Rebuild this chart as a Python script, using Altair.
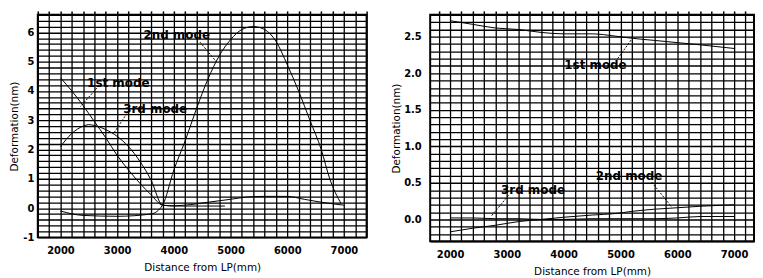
import altair as alt
import pandas as pd

FONT = "DejaVu Sans"

# ---------------- Left panel data ----------------
left_x_1st = [2000, 2200, 2400, 2600, 2800, 3000, 3200, 3400, 3600, 3800, 4000, 4500, 4900]
left_y_1st = [4.45, 4.0, 3.5, 2.95, 2.4, 1.8, 1.3, 0.85, 0.45, 0.1, 0.07, 0.07, 0.07]

left_x_2nd = [2000, 2400, 3000, 3600, 3800, 4000, 4200, 4400, 4600, 4800, 5000, 5200,
              5400, 5600, 5800, 6000, 6200, 6400, 6600, 6750, 6950]
left_y_2nd = [-0.1, -0.25, -0.28, -0.2, 0.1, 1.3, 2.3, 3.4, 4.4, 5.2, 5.75, 6.1,
              6.2, 6.1, 5.7, 4.9, 4.0, 3.0, 2.0, 1.0, 0.15]

left_x_3rd = [2000, 2200, 2400, 2500, 2600, 2800, 3000, 3200, 3400, 3600, 3800, 4000,
              4300, 4600, 5000, 5300, 5600, 6000, 6300, 6600, 7000]
left_y_3rd = [2.1, 2.55, 2.8, 2.85, 2.82, 2.68, 2.45, 2.1, 1.6, 0.95, 0.1, 0.08,
              0.12, 0.2, 0.3, 0.38, 0.4, 0.4, 0.3, 0.2, 0.1]

left_labels = ["2nd mode", "1st mode", "3rd mode"]
left_label_x = [4050, 3020, 3670]
left_label_y = [5.9, 4.28, 3.4]
left_lead_x = [4460, 2640, 3170]
left_lead_y = [5.67, 4.1, 3.23]
left_lead_x2 = [4750, 2350, 2930]
left_lead_y2 = [5.0, 3.46, 2.53]

# ---------------- Right panel data ----------------
right_x = [2000, 2400, 2800, 3200, 3600, 4000, 4500, 4900, 5200, 5600, 6000, 6400, 7000]
right_y_1st = [2.72, 2.67, 2.62, 2.6, 2.56, 2.54, 2.54, 2.51, 2.48, 2.45, 2.42, 2.39, 2.34]
right_y_2nd = [-0.17, -0.12, -0.08, -0.03, 0.0, 0.03, 0.06, 0.08, 0.11, 0.14, 0.16, 0.18, 0.2]
right_y_3rd = [0.02, 0.02, 0.01, 0.01, 0.0, 0.0, 0.01, 0.01, 0.01, 0.01, 0.02, 0.04, 0.04]

right_labels = ["1st mode", "2nd mode", "3rd mode"]
right_label_x = [4560, 5150, 3460]
right_label_y = [2.11, 0.6, 0.4]
right_lead_x = [4950, 5550, 3030]
right_lead_y = [2.2, 0.51, 0.33]
right_lead_x2 = [5200, 5900, 2730]
right_lead_y2 = [2.47, 0.17, 0.05]


def series_df(pairs):
    rows = []
    for mode, xs, ys in pairs:
        for x, y in zip(xs, ys):
            rows.append({"mode": mode, "x": x, "y": y})
    return pd.DataFrame(rows)


def steps(start, stop, step):
    n = int(round((stop - start) / step))
    return [round(start + i * step, 4) for i in range(n + 1)]


def panel(df, labels, lx, ly, rx, ry, rx2, ry2, xdom, ydom, xgrid, ygrid, ylab_expr,
          ylab_pad, ytitle_pad, W, H):
    xs = alt.Scale(domain=xdom, nice=False, zero=False)
    ys = alt.Scale(domain=ydom, nice=False, zero=False)
    x_axis = alt.Axis(
        orient="bottom", values=xgrid, grid=True, gridColor="#000", gridWidth=1.3,
        ticks=False, domain=False, labelOverlap=False,
        labelExpr="datum.value % 1000 == 0 ? datum.value + '' : ''",
        labelFont=FONT, labelFontWeight="bold", labelFontSize=10, labelColor="#000",
        labelPadding=8, title="Distance from LP(mm)", titleFont=FONT,
        titleFontWeight="normal", titleFontSize=10.5, titleColor="#000", titlePadding=7)
    y_axis = alt.Axis(
        orient="left", values=ygrid, grid=True, gridColor="#000", gridWidth=1.3,
        ticks=False, domain=False, labelOverlap=False, labelExpr=ylab_expr,
        labelFont=FONT, labelFontWeight="bold", labelFontSize=10, labelColor="#000",
        labelPadding=ylab_pad, title="Deformation(nm)", titleFont=FONT,
        titleFontWeight="normal", titleFontSize=10.5, titleColor="#000",
        titlePadding=ytitle_pad)
    top_axis = alt.Axis(
        orient="top", values=xgrid, grid=False, labels=False, domain=False,
        ticks=True, tickSize=4, tickWidth=1.5, tickColor="#000", title=None)

    lines = alt.Chart(df).mark_line(color="black", strokeWidth=1, interpolate="monotone").encode(
        x=alt.X("x:Q", scale=xs, axis=x_axis),
        y=alt.Y("y:Q", scale=ys, axis=y_axis),
        detail="mode:N",
    )
    ann = pd.DataFrame({"t": labels, "x": lx, "y": ly})
    texts = alt.Chart(ann).mark_text(font=FONT, fontWeight="bold", fontSize=12,
                                     color="black").encode(
        x=alt.X("x:Q", scale=xs, axis=top_axis),
        y=alt.Y("y:Q", scale=ys, axis=None),
        text="t:N",
    )
    lead = pd.DataFrame({"x": rx, "y": ry, "x2": rx2, "y2": ry2})
    rules = alt.Chart(lead).mark_rule(color="black", strokeWidth=1,
                                      strokeDash=[2, 1.5]).encode(
        x=alt.X("x:Q", scale=xs, axis=None),
        y=alt.Y("y:Q", scale=ys, axis=None),
        x2="x2:Q", y2="y2:Q",
    )
    return alt.layer(lines, rules, texts).resolve_axis(
        x="independent", y="independent").properties(width=W, height=H)


left_df = series_df([
    ("1st", left_x_1st, left_y_1st),
    ("2nd", left_x_2nd, left_y_2nd),
    ("3rd", left_x_3rd, left_y_3rd),
])
right_df = series_df([
    ("1st", right_x, right_y_1st),
    ("2nd", right_x, right_y_2nd),
    ("3rd", right_x, right_y_3rd),
])

left = panel(
    left_df, left_labels, left_label_x, left_label_y, left_lead_x, left_lead_y,
    left_lead_x2, left_lead_y2, [1600, 7400], [-1, 6.6],
    steps(1600, 7400, 200), steps(-1, 6.6, 0.2),
    "abs(datum.value - round(datum.value)) < 0.001 ? round(datum.value) + '' : ''",
    4, 3, 331, 224)

right = panel(
    right_df, right_labels, right_label_x, right_label_y, right_lead_x, right_lead_y,
    right_lead_x2, right_lead_y2, [1650, 7350], [-0.3, 2.8],
    steps(1800, 7200, 200), steps(-0.3, 2.8, 0.1),
    "abs(datum.value * 2 - round(datum.value * 2)) < 0.001 ? format(datum.value, '.1f') : ''",
    9, 2, 326, 228)

chart = alt.hconcat(left, right, spacing=22).properties(
    padding=0, background="white"
).configure_view(stroke="black", strokeWidth=2)

chart.save("out.html", embed_options={"renderer": "svg", "actions": False})
